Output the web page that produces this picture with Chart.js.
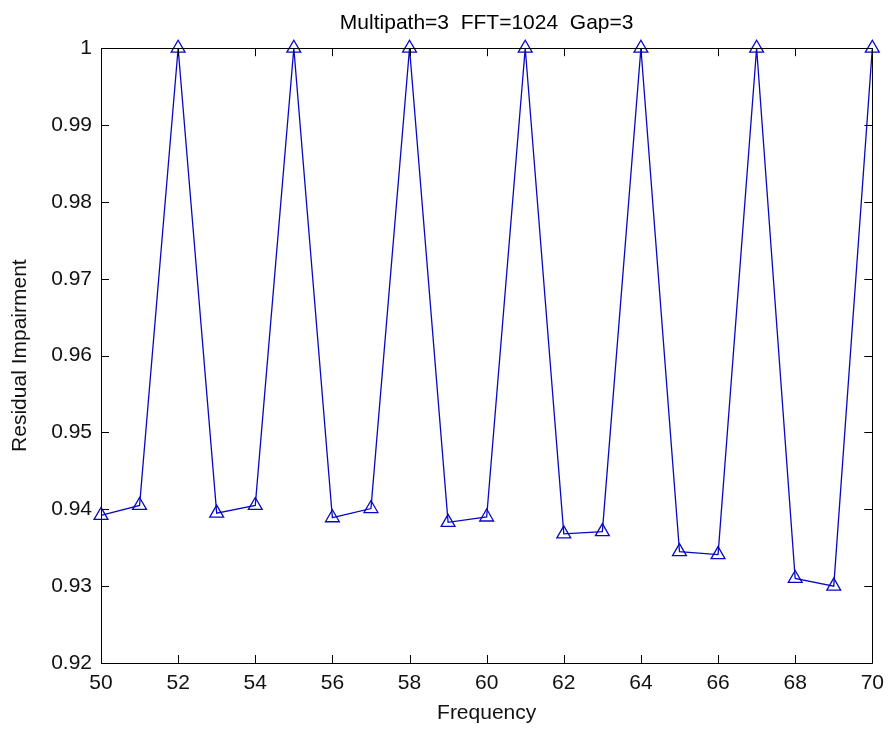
<!DOCTYPE html>
<html>
<head>
<meta charset="utf-8">
<title>Residual Impairment</title>
<script src="https://cdn.jsdelivr.net/npm/chart.js@4.4.1/dist/chart.umd.min.js"></script>
<style>
  html, body { margin: 0; padding: 0; background: #fff; }
  #wrap { width: 892px; height: 731px; position: relative; }
</style>
</head>
<body>
<div id="wrap"><canvas id="chart"></canvas></div>
<script>
// data
const frequency = [50, 51, 52, 53, 54, 55, 56, 57, 58, 59, 60, 61, 62, 63, 64, 65, 66, 67, 68, 69, 70];
const impairment = [
  0.9392, 0.9405, 1, 0.9395, 0.9405, 1, 0.9389, 0.9401, 1, 0.9383, 0.9390,
  1, 0.9368, 0.9371, 1, 0.9345, 0.9341, 1, 0.9310, 0.9300, 1
];
const xTicks = [50, 52, 54, 56, 58, 60, 62, 64, 66, 68, 70];
const yTicks = [0.92, 0.93, 0.94, 0.95, 0.96, 0.97, 0.98, 0.99, 1];
const yTickLabels = ["0.92", "0.93", "0.94", "0.95", "0.96", "0.97", "0.98", "0.99", "1"];

const FONT = "'Liberation Sans', Arial, sans-serif";
const BLUE = "#0808c4";

// matlab style box with ticks pointing inwards
const boxTicks = {
  id: "boxTicks",
  afterDraw(chart) {
    const { ctx, chartArea } = chart;
    const { left, right, top, bottom } = chartArea;
    const x = chart.scales.x;
    const y = chart.scales.y;
    const len = 8;
    ctx.save();
    ctx.strokeStyle = "#000";
    ctx.lineWidth = 1;
    ctx.beginPath();
    ctx.rect(Math.round(left) + 0.5, Math.round(top) + 0.5, Math.round(right - left), Math.round(bottom - top));
    for (const v of xTicks) {
      const px = Math.round(x.getPixelForValue(v)) + 0.5;
      ctx.moveTo(px, bottom);
      ctx.lineTo(px, bottom - len);
      ctx.moveTo(px, top);
      ctx.lineTo(px, top + len);
    }
    for (const v of yTicks) {
      const py = Math.round(y.getPixelForValue(v)) + 0.5;
      ctx.moveTo(left, py);
      ctx.lineTo(left + len, py);
      ctx.moveTo(right, py);
      ctx.lineTo(right - len, py);
    }
    ctx.stroke();
    ctx.restore();
  }
};

const ctx = document.getElementById("chart").getContext("2d");

new Chart(ctx, {
  type: "line",
  data: {
    datasets: [
      {
        label: "Residual Impairment",
        data: frequency.map((f, i) => ({ x: f, y: impairment[i] })),
        borderColor: BLUE,
        backgroundColor: "rgba(0,0,0,0)",
        borderWidth: 1.3,
        pointStyle: "triangle",
        pointRadius: 8,
        pointBorderWidth: 1.3,
        pointBorderColor: BLUE,
        pointBackgroundColor: "rgba(0,0,0,0)",
        tension: 0,
        clip: false,
      },
    ],
  },
  options: {
    responsive: true,
    maintainAspectRatio: false,
    animation: false,
    layout: {
      padding: { left: 0, right: 14, top: 0, bottom: 0 },
    },
    plugins: {
      legend: { display: false },
      tooltip: { enabled: false },
      title: {
        display: true,
        fullSize: false,
        text: "Multipath=3  FFT=1024  Gap=3",
        color: "#000",
        font: { family: FONT, size: 21, weight: "normal" },
        padding: { top: 11, bottom: 12 },
      },
    },
    scales: {
      x: {
        type: "linear",
        min: 50,
        max: 70,
        grid: { display: false, drawTicks: false },
        border: { display: false },
        afterBuildTicks: (scale) => {
          scale.ticks = xTicks.map((v) => ({ value: v }));
        },
        afterFit: (scale) => {
          scale.height = 68;
        },
        ticks: {
          color: "#111",
          padding: 8,
          maxRotation: 0,
          font: { family: FONT, size: 21 },
          callback: (v) => String(v),
        },
        title: {
          display: true,
          text: "Frequency",
          color: "#111",
          font: { family: FONT, size: 21 },
          padding: { top: 0, bottom: 5 },
        },
      },
      y: {
        type: "linear",
        min: 0.92,
        max: 1,
        grid: { display: false, drawTicks: false },
        border: { display: false },
        afterBuildTicks: (scale) => {
          scale.ticks = yTicks.map((v) => ({ value: v }));
        },
        afterFit: (scale) => {
          scale.width = 101;
        },
        ticks: {
          color: "#111",
          padding: 9,
          font: { family: FONT, size: 21 },
          callback: (v, i) => yTickLabels[i],
        },
        title: {
          display: true,
          text: "Residual Impairment",
          color: "#111",
          font: { family: FONT, size: 21 },
          padding: { top: 8, bottom: 0 },
        },
      },
    },
  },
  plugins: [boxTicks],
});
</script>
</body>
</html>
